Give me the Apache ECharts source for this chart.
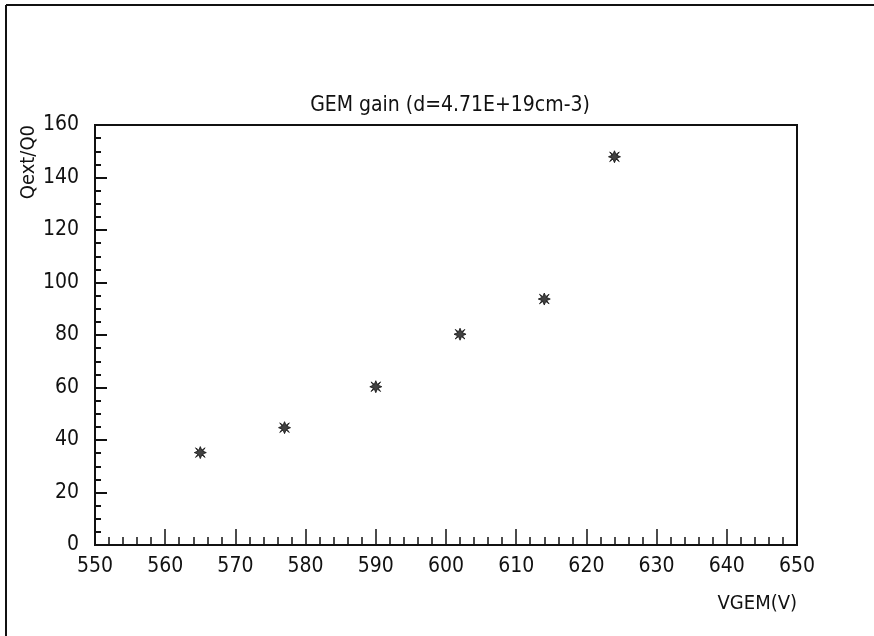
<!DOCTYPE html>
<html><head><meta charset="utf-8">
<script src="https://cdn.jsdelivr.net/npm/echarts@6/dist/echarts.min.js"></script>
<style>html,body{margin:0;padding:0;background:#fff}#c{width:874px;height:636px}</style>
</head><body><div id="c"></div>
<script>
const vgem = [565, 577, 590, 602, 614, 624];
const gain = [35.2, 44.7, 60.3, 80.3, 93.7, 147.9];
const titleText = 'GEM gain (d=4.71E+19cm-3)';
const xName = 'VGEM(V)';
const yName = 'Qext/Q0';
const FONT = '"Liberation Sans Narrow","DejaVu Sans Condensed",sans-serif';
const chart = echarts.init(document.getElementById('c'), null, {renderer:'canvas'});
const star = 'path://M0,-10 L2.5,-4 L8,-8 L4,-2.5 L10,0 L4,2.5 L8,8 L2.5,4 L0,10 L-2.5,4 L-8,8 L-4,2.5 L-10,0 L-4,-2.5 L-8,-8 L-2.5,-4 Z';
chart.setOption({
  backgroundColor:'#fff',
  animation:false,
  title:{text:titleText,left:445,top:90,textAlign:'center',textStyle:{fontFamily:FONT,fontSize:21,fontWeight:'normal',color:'#111'}},
  grid:{left:95,right:77,top:125,bottom:91,show:true,borderColor:'#111',borderWidth:2,backgroundColor:'transparent'},
  xAxis:{type:'value',min:550,max:650,interval:10,
    name:xName,nameLocation:'end',nameGap:0,nameMoveOverlap:false,
    nameTextStyle:{fontFamily:FONT,fontSize:20,color:'#111',align:'right',verticalAlign:'top',padding:[49,0,0,0]},
    axisLine:{show:true,onZero:false,lineStyle:{color:'#111',width:2}},
    axisTick:{show:true,inside:true,length:16,lineStyle:{color:'#111',width:1.5}},
    minorTick:{show:true,splitNumber:5,length:8,lineStyle:{color:'#111',width:1.5}},
    splitLine:{show:false},
    axisLabel:{fontFamily:FONT,fontSize:21,color:'#111',margin:11}
  },
  yAxis:{type:'value',min:0,max:160,interval:20,
    name:yName,nameLocation:'end',nameRotate:90,nameGap:0,nameMoveOverlap:false,
    nameTextStyle:{fontFamily:FONT,fontSize:20,color:'#111',align:'right',verticalAlign:'bottom',padding:[0,0,56,0]},
    axisLine:{show:true,onZero:false,lineStyle:{color:'#111',width:2}},
    axisTick:{show:true,inside:true,length:12,lineStyle:{color:'#111',width:2}},
    minorTick:{show:true,splitNumber:4,length:6,lineStyle:{color:'#111',width:2}},
    splitLine:{show:false},
    axisLabel:{fontFamily:FONT,fontSize:21,color:'#111',margin:16}
  },
  graphic:[
    {type:'line',shape:{x1:6,y1:5,x2:874,y2:5},style:{stroke:'#111',lineWidth:2}},
    {type:'line',shape:{x1:6,y1:5,x2:6,y2:636},style:{stroke:'#111',lineWidth:2}}
  ],
  series:[{type:'scatter',data:vgem.map((v,i)=>[v,gain[i]]),symbol:star,symbolSize:12,
    itemStyle:{color:'#111',borderColor:'#111',borderWidth:1}}]
});
</script></body></html>
